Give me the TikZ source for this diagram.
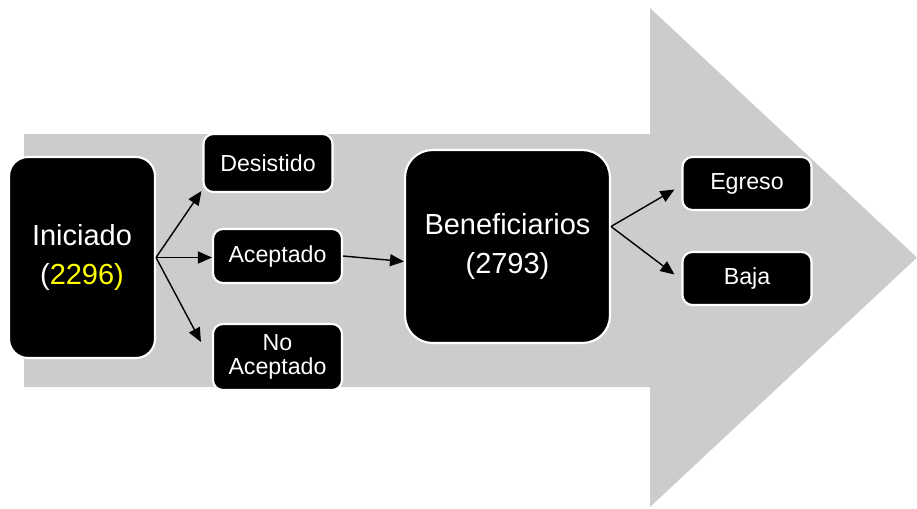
\documentclass[tikz,border=0pt]{standalone}
\usepackage{fontspec}
\setmainfont{Liberation Sans}
\usepackage{tikz}
\usetikzlibrary{arrows.meta, positioning, calc}
\definecolor{bggray}{HTML}{CCCCCC}
\definecolor{numyellow}{HTML}{FFFF00}
\tikzset{
  bigstate/.style={rectangle, rounded corners=0.38cm, draw=white, line width=1.2pt, fill=black,
                   text=white, align=center, font=\fontsize{16.5}{22.5}\selectfont},
  smallstate/.style={rectangle, rounded corners=0.2cm, draw=white, line width=1.2pt, fill=black,
                     text=white, align=center, minimum width=2.58cm, font=\fontsize{13.2}{13.8}\selectfont},
  arrow/.style={thick, -{Triangle[length=0.28cm, width=0.24cm]}},
  bigarrow/.style={fill=bggray, draw=none}
}

\begin{document}
\begin{tikzpicture}[x=0.02cm, y=-0.02cm]

    \useasboundingbox (0,0) rectangle (917,508);
    % flecha de fondo
    \fill [bigarrow] (24,134) -- (650,134) -- (650,8) -- (917,257.5) -- (650,507) -- (650,387) -- (24,387) -- cycle;

    \node (iniciado) [bigstate, minimum width=2.92cm, minimum height=4.02cm] at (82,257.5) {Iniciado\\(\textcolor{numyellow}{2296)}};
    \node (desistido) [smallstate, minimum height=1.16cm] at (268,163) {Desistido};
    \node (aceptado) [smallstate, minimum height=1.08cm] at (277.5,256) {Aceptado};
    \node (noAceptado) [smallstate, minimum height=1.32cm] at (277.5,357) {No\\Aceptado};
    \node (beneficiarios) [bigstate, rounded corners=0.55cm, minimum width=4.1cm, minimum height=3.86cm] at (507.5,246.5) {Beneficiarios\\(2793)};
    \node (egreso) [smallstate, minimum height=1.06cm] at (747,183.5) {Egreso};
    \node (baja) [smallstate, minimum height=1.06cm] at (747,278.5) {Baja};

    \draw [arrow] (iniciado.east) -- ([xshift=-0.02cm, yshift=0.04cm]desistido.south west);
    \draw [arrow] (iniciado.east) -- (iniciado.east -| aceptado.west);
    \draw [arrow] (iniciado.east) -- ([xshift=-0.22cm, yshift=0.3cm]noAceptado.west);
    \draw [arrow] (aceptado.east) -- ([yshift=-0.3cm]beneficiarios.west);
    \draw [arrow] ([yshift=0.4cm]beneficiarios.east) -- ([xshift=-0.14cm, yshift=-0.12cm]egreso.west);
    \draw [arrow] ([yshift=0.4cm]beneficiarios.east) -- ([xshift=-0.14cm, yshift=0.08cm]baja.west);

\end{tikzpicture}
\end{document}
